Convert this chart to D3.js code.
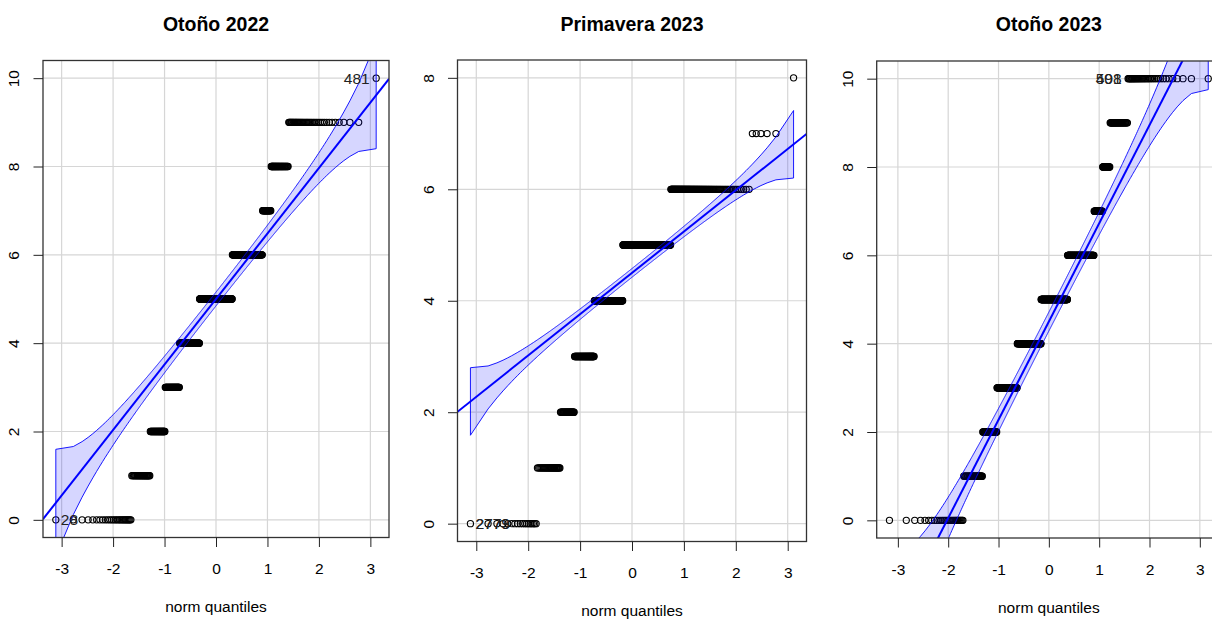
<!DOCTYPE html>
<html><head><meta charset="utf-8">
<script src="https://cdn.jsdelivr.net/npm/d3@7"></script>
<style>
body{margin:0;background:#fff}
svg{display:block}
text{font-family:"Liberation Sans",Arial,Helvetica,sans-serif}
</style>
</head><body>
<svg id="chart" width="1212" height="619"></svg>
<script>
// ---------------- data ----------------
const panelTitles = ["Otoño 2022", "Primavera 2023", "Otoño 2023"];
const scoreValues = [0, 1, 2, 3, 4, 5, 6, 7, 8, 9, 10];
// number of observations per score value
const countsOtono2022     = [27, 27, 33, 42, 73, 135, 104, 22, 34, 42, 1];
const countsPrimavera2023 = [18, 27, 27, 54, 106, 185, 117, 5, 1, 0, 0];
const countsOtono2023     = [29, 32, 37, 74, 113, 134, 111, 27, 20, 35, 38];
// identified points: label and rank (1-based position in sorted sample)
const idLabelsOtono2022     = ["28", "481"];
const idRanksOtono2022      = [1, 540];
const idLabelsPrimavera2023 = ["2773", "2779"];
const idRanksPrimavera2023  = [1, 1];
const idLabelsOtono2023     = ["498", "501"];
const idRanksOtono2023      = [613, 613];
const xTickValues = [-3, -2, -1, 0, 1, 2, 3];
const yTickValuesOtono2022     = [0, 2, 4, 6, 8, 10];
const yTickValuesPrimavera2023 = [0, 2, 4, 6, 8];
const yTickValuesOtono2023     = [0, 2, 4, 6, 8, 10];
const xAxisLabel = "norm quantiles";
const envelopeLevel = 0.95;

// ---------------- layout ----------------
const boxes = [
  {l: 43,    r: 389,   t: 60.5, b: 537.5},
  {l: 457.5, r: 806.5, t: 60,   b: 541.5},
  {l: 876.7, r: 1221,  t: 61,   b: 538}
];
const panels = [
  {counts: countsOtono2022,     ids: idLabelsOtono2022,     ranks: idRanksOtono2022,     yTicks: yTickValuesOtono2022},
  {counts: countsPrimavera2023, ids: idLabelsPrimavera2023, ranks: idRanksPrimavera2023, yTicks: yTickValuesPrimavera2023},
  {counts: countsOtono2023,     ids: idLabelsOtono2023,     ranks: idRanksOtono2023,     yTicks: yTickValuesOtono2023}
];

// ---------------- normal distribution helpers ----------------
function qnorm(p){
  const a=[-3.969683028665376e+01,2.209460984245205e+02,-2.759285104469687e+02,1.383577518672690e+02,-3.066479806614716e+01,2.506628277459239e+00];
  const b=[-5.447609879822406e+01,1.615858368580409e+02,-1.556989798598866e+02,6.680131188771972e+01,-1.328068155288572e+01];
  const c=[-7.784894002430293e-03,-3.223964580411365e-01,-2.400758277161838e+00,-2.549732539343734e+00,4.374664141464968e+00,2.938163982698783e+00];
  const d=[7.784695709041462e-03,3.224671290700398e-01,2.445134137142996e+00,3.754408661907416e+00];
  const pl=0.02425, ph=1-pl;
  let q, r;
  if (p < pl){ q=Math.sqrt(-2*Math.log(p)); return (((((c[0]*q+c[1])*q+c[2])*q+c[3])*q+c[4])*q+c[5])/((((d[0]*q+d[1])*q+d[2])*q+d[3])*q+1); }
  if (p > ph){ q=Math.sqrt(-2*Math.log(1-p)); return -(((((c[0]*q+c[1])*q+c[2])*q+c[3])*q+c[4])*q+c[5])/((((d[0]*q+d[1])*q+d[2])*q+d[3])*q+1); }
  q=p-0.5; r=q*q;
  return (((((a[0]*r+a[1])*r+a[2])*r+a[3])*r+a[4])*r+a[5])*q/(((((b[0]*r+b[1])*r+b[2])*r+b[3])*r+b[4])*r+1);
}
const dnorm = z => Math.exp(-z*z/2)/Math.sqrt(2*Math.PI);

// ---------------- drawing ----------------
const svg = d3.select("#chart");
const FS = 15.5;

panels.forEach((pn, k) => {
  const box = boxes[k];
  const sample = [];
  scoreValues.forEach((v, i) => { for (let j = 0; j < pn.counts[i]; j++) sample.push(v); });
  const n = sample.length;
  const P = d3.range(n).map(i => (i + 0.5) / n);
  const z = P.map(qnorm);

  const xe = d3.extent(z), ye = d3.extent(sample);
  const px = (xe[1]-xe[0])*0.04, py = (ye[1]-ye[0])*0.04;
  const x = d3.scaleLinear().domain([xe[0]-px, xe[1]+px]).range([box.l, box.r]);
  const y = d3.scaleLinear().domain([ye[0]-py, ye[1]+py]).range([box.b, box.t]);

  const g = svg.append("g");
  const clipId = "clip" + k;
  g.append("clipPath").attr("id", clipId).append("rect")
    .attr("x", box.l).attr("y", box.t).attr("width", box.r-box.l).attr("height", box.b-box.t);
  const inner = g.append("g").attr("clip-path", `url(#${clipId})`);

  // grid
  inner.selectAll(".gx").data(xTickValues).join("line")
    .attr("x1", d => x(d)).attr("x2", d => x(d)).attr("y1", box.t).attr("y2", box.b)
    .attr("stroke", "#d6d6d6").attr("stroke-width", 1.2);
  inner.selectAll(".gy").data(pn.yTicks).join("line")
    .attr("y1", d => y(d)).attr("y2", d => y(d)).attr("x1", box.l).attr("x2", box.r)
    .attr("stroke", "#d6d6d6").attr("stroke-width", 1.2);

  // points
  inner.append("g").selectAll("circle").data(sample).join("circle")
    .attr("cx", (d, i) => x(z[i])).attr("cy", d => y(d)).attr("r", 3.1)
    .attr("fill", "none").attr("stroke", "#000").attr("stroke-width", 1.1);

  // quartile reference line and envelope
  const Q1 = d3.quantileSorted(sample, 0.25), Q3 = d3.quantileSorted(sample, 0.75);
  const bSl = (Q3 - Q1) / (qnorm(0.75) - qnorm(0.25));
  const aInt = Q1 - bSl * qnorm(0.25);
  const zz = qnorm(1 - (1 - envelopeLevel) / 2);
  const upper = z.map((zi, i) => aInt + bSl*zi + zz * (bSl/dnorm(zi)) * Math.sqrt(P[i]*(1-P[i])/n));
  const lower = z.map((zi, i) => aInt + bSl*zi - zz * (bSl/dnorm(zi)) * Math.sqrt(P[i]*(1-P[i])/n));
  const poly = z.map((zi, i) => [x(zi), y(upper[i])])
    .concat(z.slice().reverse().map((zi, j) => [x(zi), y(lower[n-1-j])]));
  inner.append("path").attr("d", d3.line()(poly) + "Z")
    .attr("fill", "rgba(0,0,255,0.16)").attr("stroke", "#0000ff").attr("stroke-width", 0.9);
  const xd = x.domain();
  inner.append("line")
    .attr("x1", x(xd[0])).attr("y1", y(aInt + bSl*xd[0]))
    .attr("x2", x(xd[1])).attr("y2", y(aInt + bSl*xd[1]))
    .attr("stroke", "#0000ff").attr("stroke-width", 2);

  // id labels
  pn.ids.forEach((lab, j) => {
    const idx = pn.ranks[j] - 1;
    const zx = z[idx], left = zx > 0;
    g.append("text").attr("x", x(zx) + (left ? -6.5 : 5)).attr("y", y(sample[idx]))
      .attr("dy", "0.36em").attr("text-anchor", left ? "end" : "start")
      .attr("font-size", FS).attr("fill", "#222").text(lab);
  });

  // box
  g.append("rect").attr("x", box.l).attr("y", box.t).attr("width", box.r-box.l).attr("height", box.b-box.t)
    .attr("fill", "none").attr("stroke", "#333").attr("stroke-width", 1.3);

  // x axis
  const ax = g.append("g").attr("transform", `translate(0,${box.b})`)
    .call(d3.axisBottom(x).tickValues(xTickValues).tickSize(9.5).tickPadding(16).tickFormat(d3.format("d")));
  ax.select(".domain").remove();
  ax.selectAll("line").attr("stroke", "#222");
  ax.selectAll("text").attr("font-size", FS).attr("fill", "#000").attr("font-family", null)
    .text(d => d < 0 ? "-" + Math.abs(d) : String(d));

  // y axis (rotated labels)
  const ay = g.append("g").attr("transform", `translate(${box.l},0)`)
    .call(d3.axisLeft(y).tickValues(pn.yTicks).tickSize(9.5).tickFormat(d3.format("d")));
  ay.select(".domain").remove();
  ay.selectAll("line").attr("stroke", "#222");
  ay.selectAll("text").attr("font-size", FS).attr("fill", "#000").attr("font-family", null)
    .attr("x", null).attr("dy", null).attr("text-anchor", "middle")
    .attr("transform", "translate(-24,0) rotate(-90)");

  // title and axis label
  const cx = (box.l + box.r) / 2;
  g.append("text").attr("x", cx).attr("y", 30.5).attr("text-anchor", "middle")
    .attr("font-size", 19.5).attr("font-weight", "bold").attr("fill", "#000").text(panelTitles[k]);
  g.append("text").attr("x", cx).attr("y", box.b + 74.5).attr("text-anchor", "middle")
    .attr("font-size", FS).attr("fill", "#000").text(xAxisLabel);
});
</script>
</body></html>
